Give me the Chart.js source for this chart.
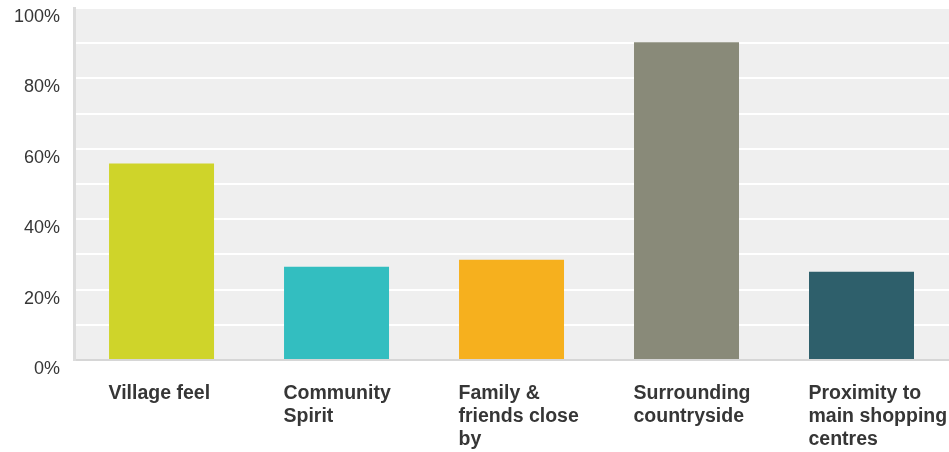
<!DOCTYPE html>
<html>
<head>
  <title>Why people like living here</title>
  <script src="https://cdn.jsdelivr.net/npm/chart.js"></script>
  <style>
    html, body { margin: 0; padding: 0; background: #fff; }
    #wrap { width: 949px; height: 452px; position: relative; }
  </style>
</head>
<body>
  <div id="wrap"><canvas id="chart"></canvas></div>

  <script>
    // categories (multi-line labels as shown in the picture)
    var categories = [
      'Village feel',
      ['Community', 'Spirit'],
      ['Family &', 'friends close', 'by'],
      ['Surrounding', 'countryside'],
      ['Proximity to', 'main shopping', 'centres']
    ];
    // percentage of respondents
    var values = [55.8, 26.5, 28.5, 90.3, 25.1];
    var barColors = ['#cfd42a', '#33bec0', '#f6b01e', '#898a79', '#2e5f6b'];

    // grey plot background
    var plotBg = {
      id: 'plotBg',
      beforeDraw: function(chart) {
        var a = chart.chartArea;
        var c = chart.ctx;
        c.save();
        c.fillStyle = '#efefef';
        c.fillRect(a.left, a.top, a.right - a.left, a.bottom - a.top);
        c.restore();
      }
    };

    // stop the scales from reserving room for overhanging labels
    function noPad(scale) {
      scale.paddingLeft = 0;
      scale.paddingRight = 0;
      scale.paddingTop = 0;
      scale.paddingBottom = 0;
    }

    var ctx = document.getElementById('chart').getContext('2d');
    var chart = new Chart(ctx, {
      type: 'bar',
      data: {
        labels: categories,
        datasets: [{
          data: values,
          backgroundColor: barColors,
          categoryPercentage: 1.0,
          barPercentage: 0.6
        }]
      },
      options: {
        responsive: true,
        maintainAspectRatio: false,
        animation: false,
        layout: { padding: { left: 0, top: 8, right: 0, bottom: 0 } },
        plugins: {
          legend: { display: false },
          tooltip: { enabled: false }
        },
        scales: {
          x: {
            afterFit: function(scale) {
              noPad(scale);
              scale.height = 92;
            },
            grid: { display: false, drawTicks: false },
            border: { display: true, color: '#d6d6d6', width: 2 },
            ticks: {
              color: '#363636',
              font: { family: 'Liberation Sans, Arial, sans-serif', size: 19.5, weight: 'bold', lineHeight: 1.18 },
              align: 'start',
              labelOffset: -53,
              padding: 22,
              maxRotation: 0,
              autoSkip: false
            }
          },
          y: {
            afterFit: noPad,
            min: 0,
            max: 100,
            grid: { color: '#ffffff', lineWidth: 2, drawTicks: false },
            border: { display: true, color: '#dcdcdc', width: 3 },
            ticks: {
              stepSize: 10,
              color: '#363636',
              font: { family: 'Liberation Sans, Arial, sans-serif', size: 18 },
              padding: 14,
              labelOffset: 9,
              callback: function(v) { return v % 20 === 0 ? v + '%' : ''; }
            }
          }
        }
      },
      plugins: [plotBg]
    });
  </script>
</body>
</html>
